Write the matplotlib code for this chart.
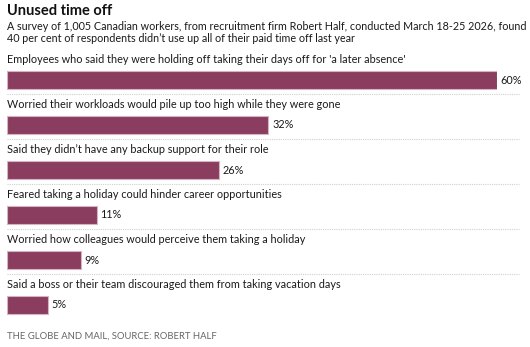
import matplotlib.pyplot as plt

labels = [
    "Employees who said they were holding off taking their days off for 'a later absence'",
    "Worried their workloads would pile up too high while they were gone",
    "Said they didn\u2019t have any backup support for their role",
    "Feared taking a holiday could hinder career opportunities",
    "Worried how colleagues would perceive them taking a holiday",
    "Said a boss or their team discouraged them from taking vacation days",
]
values = [60, 32, 26, 11, 9, 5]

plt.rcParams['font.family'] = ['Lato', 'DejaVu Sans']

W, H = 530, 347
fig = plt.figure(figsize=(W / 100, H / 100), dpi=100)

# axes: x 0..60 maps to 7..497 px, y unit = 45 px, bar 0 centred at 80 px
x0, x1 = 7, 497
ytop, ybot = 80 - 45, 80 + 5.5 * 45
ax = fig.add_axes([x0 / W, 1 - ybot / H, (x1 - x0) / W, (ybot - ytop) / H])
ax.set_xlim(0, 60)
ax.set_ylim(5.5, -1)
ax.axis('off')

bar_col = '#8a3d5f'
ypos = list(range(len(values)))
ax.barh(ypos, values, height=0.42, color=bar_col, edgecolor='#d6b3c2', linewidth=0.8)

for i, (lab, v) in enumerate(zip(labels, values)):
    ax.text(0, i - 0.45, lab, fontsize=7.8, color='#1a1a1a', va='center', ha='left')
    ax.text(v + 0.45, i, f"{v}%", fontsize=7.8, color='#1a1a1a', va='center', ha='left')
    if i < len(values) - 1:
        ax.plot([0, 62.7], [i + 0.31, i + 0.31], color='#d0d0d0', lw=0.8, ls=(0, (1, 1)),
                clip_on=False)

fig.text(7 / W, 1 - 11 / H, "Unused time off", fontsize=10.5, fontweight='bold',
         color='#111111', va='center', ha='left')
fig.text(7 / W, 1 - 32.5 / H,
         "A survey of 1,005 Canadian workers, from recruitment firm Robert Half, conducted March 18-25 2026, found\n"
         "40 per cent of respondents didn\u2019t use up all of their paid time off last year",
         fontsize=7.75, color='#1a1a1a', va='center', ha='left', linespacing=1.15)
fig.text(7 / W, 1 - 336 / H, "THE GLOBE AND MAIL, SOURCE: ROBERT HALF", fontsize=6.8,
         color='#666666', va='center', ha='left')

fig.savefig('out.png', dpi=100, facecolor='white')
